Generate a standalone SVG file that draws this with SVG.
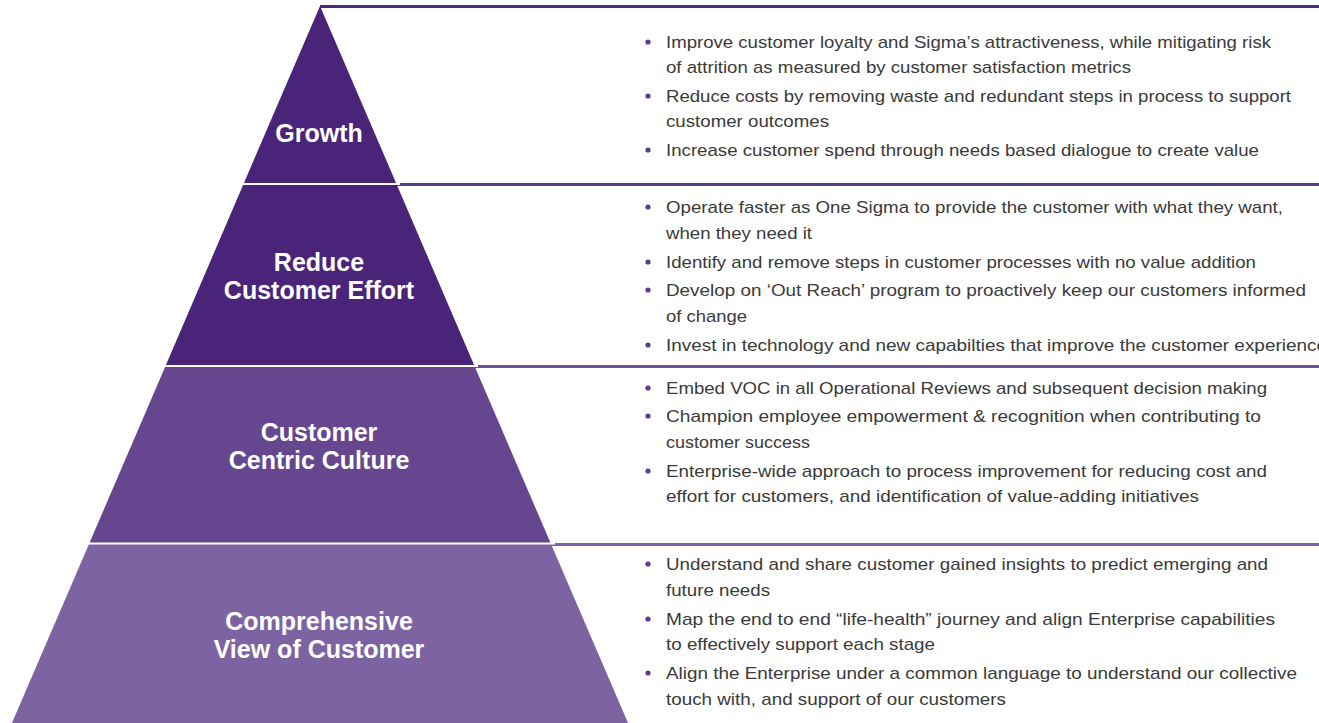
<svg xmlns="http://www.w3.org/2000/svg" width="1319" height="723" viewBox="0 0 1319 723">
  <style>
    .tier-label { font-family: "Liberation Sans", Arial, sans-serif; font-weight: bold; font-size: 25px; fill: #ffffff; text-anchor: middle; }
    .item { font-family: "Liberation Sans", Arial, sans-serif; font-size: 17px; fill: #3a3a3a; }
    .dot { fill: #5a3b8c; }
    .sep { stroke: #ffffff; stroke-width: 2; }
    .rule { stroke-width: 3; fill: none; }
  </style>
  <rect width="1319" height="723" fill="#ffffff"/>

  <!-- horizontal rules separating the tiers on the right -->
  <g id="rules">
    <line class="rule" x1="320" y1="6.5" x2="1319" y2="6.5" stroke="#4b2a7d"/>
    <line class="rule" x1="396" y1="184.5" x2="1319" y2="184.5" stroke="#5a3a8a"/>
    <line class="rule" x1="474" y1="366.5" x2="1319" y2="366.5" stroke="#6b5197"/>
    <line class="rule" x1="551" y1="544.5" x2="1319" y2="544.5" stroke="#7d62a3"/>
  </g>

  <!-- pyramid tiers -->
  <g id="tier-growth">
    <polygon points="320,6 396.5,184 243.5,184" fill="#4a2479"/>
    <text class="tier-label" x="319" y="142">Growth</text>
  </g>
  <g id="tier-reduce-effort">
    <polygon points="243.5,184 396.5,184 474.5,366 165.5,366" fill="#4a2479"/>
    <text class="tier-label" x="319" y="271">Reduce</text>
    <text class="tier-label" x="319" y="299">Customer Effort</text>
  </g>
  <g id="tier-culture">
    <polygon points="165.5,366 474.5,366 551,544 89,544" fill="#66478f"/>
    <text class="tier-label" x="319" y="441">Customer</text>
    <text class="tier-label" x="319" y="469">Centric Culture</text>
  </g>
  <g id="tier-view">
    <polygon points="89,544 551,544 628.5,724 11.5,724" fill="#7e63a3"/>
    <text class="tier-label" x="319" y="630">Comprehensive</text>
    <text class="tier-label" x="319" y="658">View of Customer</text>
  </g>
  <g id="tier-gaps">
    <line class="sep" x1="240" y1="184" x2="400" y2="184"/>
    <line class="sep" x1="160" y1="366" x2="478" y2="366"/>
    <line class="sep" x1="84" y1="543.5" x2="555" y2="543.5"/>
  </g>

  <!-- growth bullets -->
  <g id="list-growth">
    <circle class="dot" cx="648" cy="42" r="2.6"/>
    <text class="item" x="666" y="48" textLength="605" lengthAdjust="spacingAndGlyphs">Improve customer loyalty and Sigma’s attractiveness, while mitigating risk</text>
    <text class="item" x="666" y="73" textLength="465" lengthAdjust="spacingAndGlyphs">of attrition as measured by customer satisfaction metrics</text>
    <circle class="dot" cx="648" cy="96" r="2.6"/>
    <text class="item" x="666" y="102" textLength="625" lengthAdjust="spacingAndGlyphs">Reduce costs by removing waste and redundant steps in process to support</text>
    <text class="item" x="666" y="127" textLength="163" lengthAdjust="spacingAndGlyphs">customer outcomes</text>
    <circle class="dot" cx="648" cy="150" r="2.6"/>
    <text class="item" x="666" y="156" textLength="593" lengthAdjust="spacingAndGlyphs">Increase customer spend through needs based dialogue to create value</text>
  </g>

  <!-- reduce customer effort bullets -->
  <g id="list-reduce-effort">
    <circle class="dot" cx="648" cy="207" r="2.6"/>
    <text class="item" x="666" y="213" textLength="617" lengthAdjust="spacingAndGlyphs">Operate faster as One Sigma to provide the customer with what they want,</text>
    <text class="item" x="666" y="239" textLength="146" lengthAdjust="spacingAndGlyphs">when they need it</text>
    <circle class="dot" cx="648" cy="262" r="2.6"/>
    <text class="item" x="666" y="268" textLength="590" lengthAdjust="spacingAndGlyphs">Identify and remove steps in customer processes with no value addition</text>
    <circle class="dot" cx="648" cy="290" r="2.6"/>
    <text class="item" x="666" y="296" textLength="640" lengthAdjust="spacingAndGlyphs">Develop on ‘Out Reach’ program to proactively keep our customers informed</text>
    <text class="item" x="666" y="322" textLength="81" lengthAdjust="spacingAndGlyphs">of change</text>
    <circle class="dot" cx="648" cy="345" r="2.6"/>
    <text class="item" x="666" y="351" textLength="661" lengthAdjust="spacingAndGlyphs">Invest in technology and new capabilties that improve the customer experience</text>
  </g>

  <!-- customer centric culture bullets -->
  <g id="list-culture">
    <circle class="dot" cx="648" cy="388" r="2.6"/>
    <text class="item" x="666" y="394" textLength="601" lengthAdjust="spacingAndGlyphs">Embed VOC in all Operational Reviews and subsequent decision making</text>
    <circle class="dot" cx="648" cy="416" r="2.6"/>
    <text class="item" x="666" y="422" textLength="595" lengthAdjust="spacingAndGlyphs">Champion employee empowerment &amp; recognition when contributing to</text>
    <text class="item" x="666" y="448" textLength="144" lengthAdjust="spacingAndGlyphs">customer success</text>
    <circle class="dot" cx="648" cy="471" r="2.6"/>
    <text class="item" x="666" y="477" textLength="601" lengthAdjust="spacingAndGlyphs">Enterprise-wide approach to process improvement for reducing cost and</text>
    <text class="item" x="666" y="502" textLength="533" lengthAdjust="spacingAndGlyphs">effort for customers, and identification of value-adding initiatives</text>
  </g>

  <!-- comprehensive view bullets -->
  <g id="list-view">
    <circle class="dot" cx="648" cy="564" r="2.6"/>
    <text class="item" x="666" y="570" textLength="602" lengthAdjust="spacingAndGlyphs">Understand and share customer gained insights to predict emerging and</text>
    <text class="item" x="666" y="596" textLength="104" lengthAdjust="spacingAndGlyphs">future needs</text>
    <circle class="dot" cx="648" cy="619" r="2.6"/>
    <text class="item" x="666" y="625" textLength="609" lengthAdjust="spacingAndGlyphs">Map the end to end “life-health” journey and align Enterprise capabilities</text>
    <text class="item" x="666" y="650" textLength="269" lengthAdjust="spacingAndGlyphs">to effectively support each stage</text>
    <circle class="dot" cx="648" cy="673" r="2.6"/>
    <text class="item" x="666" y="679" textLength="631" lengthAdjust="spacingAndGlyphs">Align the Enterprise under a common language to understand our collective</text>
    <text class="item" x="666" y="705" textLength="340" lengthAdjust="spacingAndGlyphs">touch with, and support of our customers</text>
  </g>
</svg>
